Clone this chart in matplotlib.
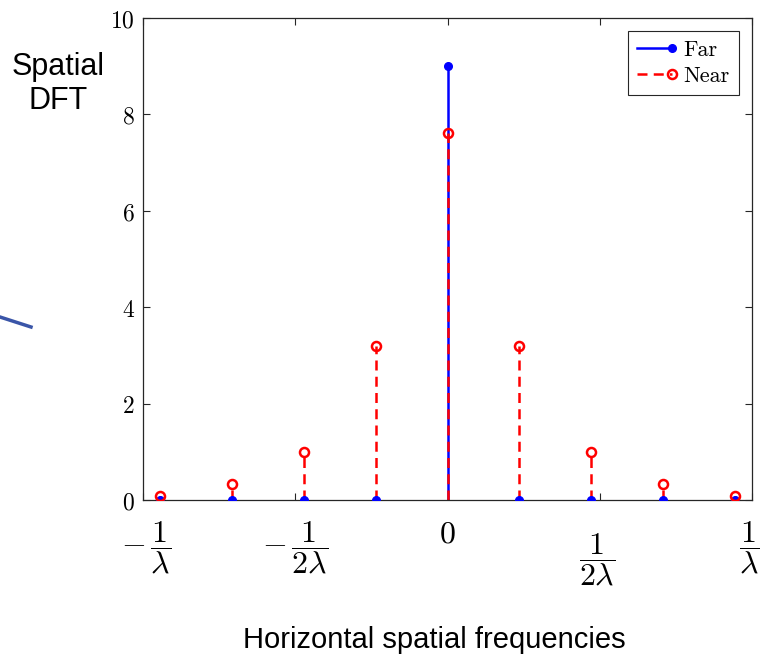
import numpy as np
import matplotlib
matplotlib.use("Agg")
import matplotlib.pyplot as plt
from matplotlib.lines import Line2D
from matplotlib.legend_handler import HandlerLine2D

plt.rcParams['mathtext.fontset'] = 'cm'

# data: stem index (spacing = 1/(4 lambda))
freq_idx = np.arange(-4, 5)
far_vals = [0, 0, 0, 0, 9, 0, 0, 0, 0]
near_vals = [0.08, 0.33, 1.0, 3.2, 7.62, 3.2, 1.0, 0.33, 0.08]

x_edge = 4.24
xtick_pos = [-x_edge, -x_edge / 2, 0, x_edge / 2, x_edge]
xtick_txt = [r'$-\,\dfrac{1}{\lambda}$', r'$-\,\dfrac{1}{2\lambda}$', r'$0$',
             r'$\dfrac{1}{2\lambda}$', r'$\dfrac{1}{\lambda}$']
xtick_dx = [2, 0, 0, -2, -2]                   # points
xtick_dy = [-34.5, -34.5, -24.5, -43, -34.5]   # points below the axis
yticks = [0, 2, 4, 6, 8, 10]


class EndMarker(HandlerLine2D):
    # MATLAB-like legend entry: marker at the right end of the line
    def create_artists(self, *args, **kwargs):
        arts = super().create_artists(*args, **kwargs)
        for a in arts:
            a.set_markevery([2])
        return arts


fig = plt.figure(figsize=(7.61, 6.58), dpi=100)
ax = fig.add_axes([143 / 761, 1 - 500 / 658, 609 / 761, 482 / 658])

far = ax.stem(freq_idx, far_vals, basefmt=' ')
far.stemlines.set_color('#0000ff')
far.stemlines.set_linewidth(1.8)
far.stemlines.set_zorder(2)
far.markerline.set_color('#0000ff')
far.markerline.set_markersize(5.5)
far.markerline.set_zorder(3)

near = ax.stem(freq_idx, near_vals, basefmt=' ')
near.stemlines.set_color('#ff0000')
near.stemlines.set_linewidth(1.8)
near.stemlines.set_linestyle((0, (4, 2.5)))
near.stemlines.set_zorder(2.5)
near.markerline.set_marker('o')
near.markerline.set_markerfacecolor('none')
near.markerline.set_markeredgecolor('#ff0000')
near.markerline.set_markeredgewidth(1.8)
near.markerline.set_markersize(6.5)
near.markerline.set_zorder(3.5)

ax.set_xlim(-x_edge, x_edge)
ax.set_ylim(0, 10)
ax.set_yticks(yticks)
ax.set_yticklabels(['$%d$' % v for v in yticks], fontsize=17)
ax.set_xticks(xtick_pos)
ax.set_xticklabels([])
ax.tick_params(direction='in', top=True, right=True, length=5, width=0.8,
               color='#262626', pad=6)
for s in ax.spines.values():
    s.set_color('#262626')
    s.set_linewidth(0.9)

for xp, txt, dx, dy in zip(xtick_pos, xtick_txt, xtick_dx, xtick_dy):
    ax.annotate(txt, xy=(xp, 0), xycoords=('data', 'axes fraction'),
                xytext=(dx, dy), textcoords='offset points',
                ha='center', va='center', fontsize=23)

h_far = Line2D([], [], color='#0000ff', lw=1.8, marker='o', markersize=5.5)
h_near = Line2D([], [], color='#ff0000', lw=1.8, ls=(0, (4, 2.5)), marker='o',
                mfc='none', mec='#ff0000', mew=1.8, markersize=6.5)
leg = ax.legend([h_far, h_near], ['Far', 'Near'], loc='upper right',
                handler_map={Line2D: EndMarker()}, numpoints=1,
                prop={'family': 'cmr10', 'size': 16}, fancybox=False,
                framealpha=1, edgecolor='#262626', handlelength=1.6,
                handletextpad=0.5, labelspacing=0.3, borderpad=0.4,
                borderaxespad=0.6)
leg.get_frame().set_linewidth(0.8)

fig.text(58 / 761, 1 - 84 / 658, 'Spatial\nDFT', ha='center', va='center',
         fontsize=22, family='Liberation Sans', linespacing=1.15)
fig.text(434 / 761, 1 - 640 / 658, 'Horizontal spatial frequencies',
         ha='center', va='center', fontsize=21, family='Liberation Sans')

# stray slide arrow stub at the left edge
fig.add_artist(Line2D([0 / 761, 31 / 761], [1 - 317 / 658, 1 - 327 / 658],
                      color='#3a55a8', lw=2.5, transform=fig.transFigure))

fig.savefig('out.png', dpi=100)
